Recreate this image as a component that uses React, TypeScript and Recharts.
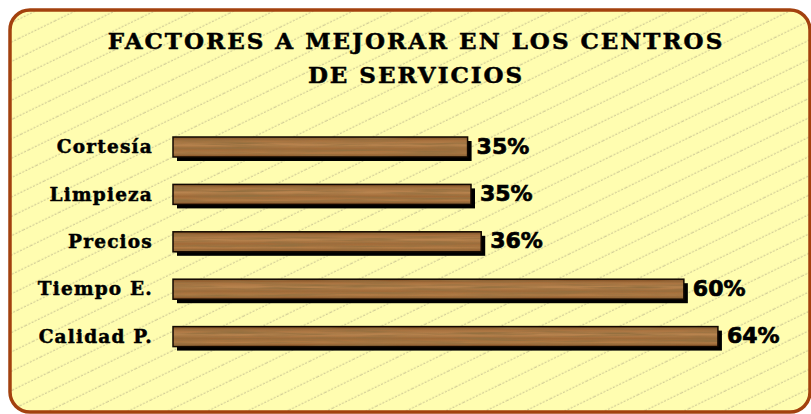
import React from 'react';
import { BarChart, Bar, XAxis, YAxis, LabelList } from 'recharts';

const categories = ['Cortesía', 'Limpieza', 'Precios', 'Tiempo E.', 'Calidad P.'];
const values = [34.6, 35.0, 36.2, 60, 64];
const valueLabels = ['35%', '35%', '36%', '60%', '64%'];
const titleLines = ['FACTORES A MEJORAR EN LOS CENTROS', 'DE SERVICIOS'];

const data = categories.map((name, i) => ({
  name,
  value: values[i],
  label: valueLabels[i],
}));

const W = 811;
const H = 414;

const WoodBar = (props: any) => {
  const { x, y, width, height } = props;
  if (width <= 0) return null;
  return (
    <g>
      <rect x={x + 4} y={y + 4} width={width} height={height} fill="#000" />
      <rect x={x} y={y} width={width} height={height} fill="url(#woodGradient)" />
      <rect x={x} y={y} width={width} height={height} fill="#000" filter="url(#grain)" />
      <rect
        x={x}
        y={y}
        width={width}
        height={height}
        fill="none"
        stroke="#120800"
        strokeWidth={1.5}
      />
    </g>
  );
};

const ValueLabel = (props: any) => {
  const { x, y, width, height, value } = props;
  return (
    <text
      x={x + width + 9}
      y={y + height / 2 - 1}
      dominantBaseline="central"
      fontFamily="'DejaVu Sans', Verdana, sans-serif"
      fontWeight={700}
      fontSize={22}
      stroke="#000"
      strokeWidth={0.7}
      fill="#000"
    >
      {value}
    </text>
  );
};

const CategoryTick = (props: any) => {
  const { x, y, payload } = props;
  return (
    <text
      x={x}
      y={y}
      textAnchor="end"
      dominantBaseline="central"
      fontFamily="'DejaVu Serif', 'Liberation Serif', serif"
      fontWeight={700}
      fontSize={18.5}
      letterSpacing={1.2}
      stroke="#000"
      strokeWidth={0.5}
      fill="#000"
    >
      {payload.value}
    </text>
  );
};

const Background = () => (
  <svg width={W} height={H} style={{ position: 'absolute', left: 0, top: 0 }}>
    <defs>
      <pattern
        id="diag"
        patternUnits="userSpaceOnUse"
        width={40}
        height={17.4}
        patternTransform="rotate(-26)"
      >
        <line x1={0} y1={8} x2={40} y2={8} stroke="#b8b188" strokeWidth={0.8} strokeDasharray="2 1.5" />
      </pattern>
    </defs>
    <rect x={10} y={10} width={800} height={402} rx={20} fill="#fffdb0" />
    <rect x={10} y={10} width={800} height={402} rx={20} fill="url(#diag)" />
    <rect x={10} y={10} width={800} height={402} rx={20} fill="none" stroke="#a3410e" strokeWidth={3.5} />
    {titleLines.map((t, i) => (
      <text
        key={t}
        x={416}
        y={49 + i * 34}
        textAnchor="middle"
        fontFamily="'DejaVu Serif', 'Liberation Serif', serif"
        fontWeight={700}
        fontSize={23}
        letterSpacing={2}
        stroke="#000"
        strokeWidth={0.5}
        fill="#000"
      >
        {t}
      </text>
    ))}
  </svg>
);

export default function App() {
  return (
    <div style={{ position: 'absolute', left: 0, top: 0, width: W, height: H, background: '#fff' }}>
      <Background />
      <div style={{ position: 'absolute', left: 0, top: 0 }}>
        <BarChart
          width={W}
          height={H}
          data={data}
          layout="vertical"
          margin={{ top: 123, right: 42, bottom: 54, left: 0 }}
          barCategoryGap={0}
        >
          <defs>
            <linearGradient id="woodGradient" x1="0" y1="0" x2="0" y2="1">
              <stop offset="0%" stopColor="#7a4a20" />
              <stop offset="18%" stopColor="#a8723f" />
              <stop offset="40%" stopColor="#b8844f" />
              <stop offset="60%" stopColor="#a06a38" />
              <stop offset="80%" stopColor="#b27c46" />
              <stop offset="100%" stopColor="#7e4d23" />
            </linearGradient>
            <filter id="grain" x="0" y="0" width="100%" height="100%">
              <feTurbulence type="fractalNoise" baseFrequency="0.015 0.4" numOctaves={3} seed={4} result="n" />
              <feColorMatrix
                in="n"
                type="matrix"
                values="0 0 0 0 0.3  0 0 0 0 0.16  0 0 0 0 0.05  2.2 0 0 0 -0.8"
                result="c"
              />
              <feComposite in="c" in2="SourceAlpha" operator="in" />
            </filter>
          </defs>
          <XAxis type="number" domain={[0, 70]} hide />
          <YAxis
            type="category"
            dataKey="name"
            width={173}
            axisLine={false}
            tickLine={false}
            tickSize={0}
            tickMargin={20}
            tick={<CategoryTick />}
            interval={0}
          />
          <Bar dataKey="value" barSize={20} shape={<WoodBar />} isAnimationActive={false}>
            <LabelList dataKey="label" content={<ValueLabel />} />
          </Bar>
        </BarChart>
      </div>
    </div>
  );
}
